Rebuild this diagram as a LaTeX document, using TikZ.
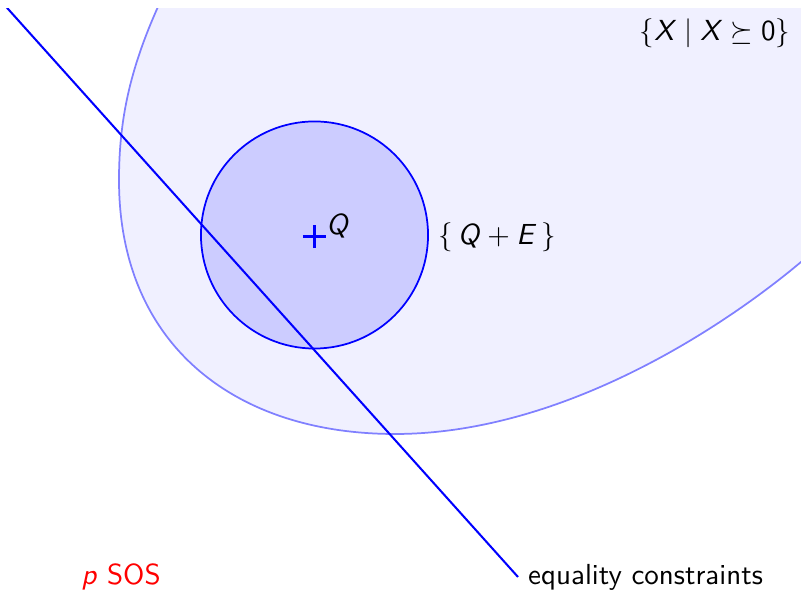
\documentclass[tikz,border=0pt]{standalone}
\usepackage{amssymb}
\newcommand{\mv}[1]{\textsf{\textit{#1}}}
\begin{document}
\begin{tikzpicture}[x=0.3448pt,y=-0.3448pt, font=\sffamily,
  region/.style={fill=blue!6, draw=blue!50, line width=0.6pt},
  ball/.style={circle, draw=blue, fill=blue!20, line width=0.6pt, minimum size=78.3pt, inner sep=0pt},
  lbl/.style={inner sep=0pt}]
\useasboundingbox (0,0) rectangle (801,590);
\clip (0,9) rectangle (801,600);
\path[region] (170.5,-21) -- (157,9) .. controls (130,70) and (119,120) .. (119,180)
  .. controls (119,345) and (235,434) .. (395,434)
  .. controls (560,434) and (720,330) .. (801,262) -- (850,220) -- (850,-40) -- (170.5,-40) -- cycle;
\node[ball] (E) at (314.5,235) {};
\coordinate (c) at (314.5,236.5);
\draw[blue, line width=0.75pt] ([xshift=-4pt]c) -- ([xshift=4pt]c)
  ([yshift=-4pt]c) -- ([yshift=4pt]c);
\node[lbl] (q) at (338,225.5) {$\mv{Q}$};
\node[lbl] (ql) at (497,237) {$\{\,\mv{Q}+\mv{E}\,\}$};
\node[lbl] (psd) at (715,33) {$\{\mv{X}\mid \mv{X}\succeq \textsf{0}\}$};
\node[red, lbl] (sos) at (121,577) {\mv{p} SOS};
\node[anchor=west] (eq) at (518,577) {equality constraints};
\coordinate (start) at (0,0);
\draw[blue, line width=0.7pt] (start) -- (eq.west);
\end{tikzpicture}
\end{document}
